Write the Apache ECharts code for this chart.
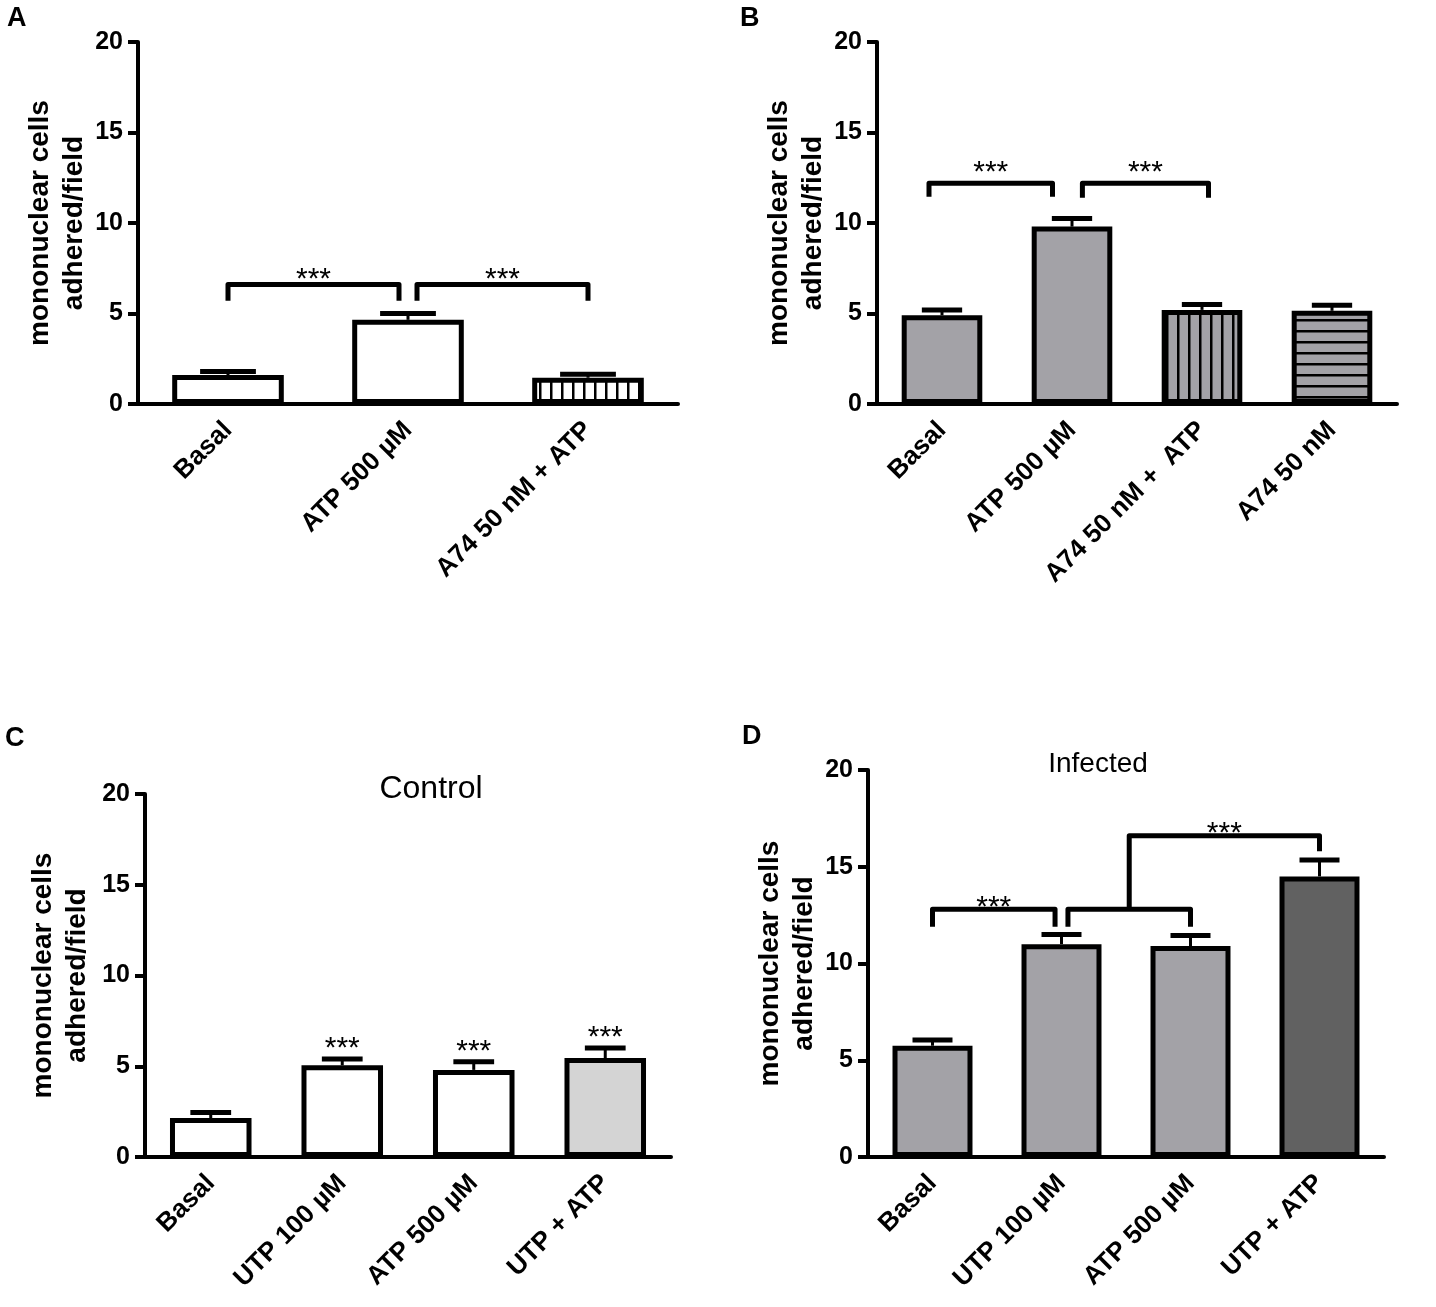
<!DOCTYPE html>
<html>
<head>
<meta charset="utf-8">
<script src="https://cdn.jsdelivr.net/npm/echarts@6/dist/echarts.min.js"></script>
<style>
  html, body { margin: 0; padding: 0; background: #fff; }
  #main { width: 1436px; height: 1307px; }
</style>
</head>
<body>
<div id="main"></div>
<script>
// panel A
const catsA = ['Basal', 'ATP 500 µM', 'A74 50 nM + ATP'];
const meanA = [1.6, 4.65, 1.45];
const semA = [0.2, 0.35, 0.2];
// panel B
const catsB = ['Basal', 'ATP 500 µM', 'A74 50 nM +  ATP', 'A74 50 nM'];
const meanB = [4.9, 9.8, 5.2, 5.15];
const semB = [0.3, 0.45, 0.3, 0.3];
// panel C (Control)
const catsC = ['Basal', 'UTP 100 µM', 'ATP 500 µM', 'UTP + ATP'];
const meanC = [2.15, 5.05, 4.8, 5.45];
const semC = [0.3, 0.35, 0.45, 0.55];
const starsC = ['', '***', '***', '***'];
// panel D (Infected)
const catsD = ['Basal', 'UTP 100 µM', 'ATP 500 µM', 'UTP + ATP'];
const meanD = [5.75, 11.0, 10.9, 14.5];
const semD = [0.3, 0.5, 0.55, 0.85];

// significance brackets: [from, to, top, left leg end, right leg end, label]
const bracketsA = [[0, 0.95, 6.6, 5.7, 5.7, '***'], [1.05, 2, 6.6, 5.7, 5.7, '***']];
const bracketsB = [[-0.1, 0.85, 12.2, 11.45, 11.45, '***'], [1.08, 2.05, 12.2, 11.4, 11.4, '***']];
const bracketsD = [[0, 0.95, 12.8, 11.9, 11.9, '***'], [1.05, 2, 12.8, 11.9, 11.9, ''], [1.525, 3, 16.6, 12.8, 15.8, '***']];

const FONT = '"Liberation Sans", Arial, sans-serif';
const GREY = '#a3a2a7';

function stripes(bg, vertical) {
  const c = document.createElement('canvas');
  c.width = 11; c.height = 11;
  const g = c.getContext('2d');
  g.fillStyle = bg; g.fillRect(0, 0, 11, 11);
  g.fillStyle = '#000';
  if (vertical) g.fillRect(0, 0, 2.5, 11); else g.fillRect(0, 0, 11, 2.5);
  return { image: c, repeat: 'repeat' };
}

const option = {
  animation: false,
  grid: [], xAxis: [], yAxis: [], series: [],
  graphic: [
    { type: 'text', x: 7, y: 5, style: { text: 'A', font: 'bold 27px ' + FONT, fill: '#000' } },
    { type: 'text', x: 740, y: 5, style: { text: 'B', font: 'bold 27px ' + FONT, fill: '#000' } },
    { type: 'text', x: 5, y: 725, style: { text: 'C', font: 'bold 27px ' + FONT, fill: '#000' } },
    { type: 'text', x: 742, y: 723, style: { text: 'D', font: 'bold 27px ' + FONT, fill: '#000' } },
    { type: 'text', x: 431, y: 789, style: { text: 'Control', font: '32px ' + FONT, fill: '#000', align: 'center', verticalAlign: 'middle' } },
    { type: 'text', x: 1098, y: 764, style: { text: 'Infected', font: '28px ' + FONT, fill: '#000', align: 'center', verticalAlign: 'middle' } }
  ]
};

function addPanel(i, cats, means, sems, colors, box, nameGap, brackets, starGap, stars) {
  option.grid.push({ left: box[0], top: box[1], width: box[2], height: box[3] });
  option.xAxis.push({
    gridIndex: i, type: 'category', data: cats,
    axisLine: { lineStyle: { color: '#000', width: 4 } },
    axisTick: { show: false },
    axisLabel: { rotate: 45, interval: 0, margin: 22, color: '#000', fontFamily: FONT, fontWeight: 'bold', fontSize: 26 }
  });
  // hidden value axis over the same grid, for bracket positions between bars
  option.xAxis.push({ gridIndex: i, type: 'value', min: -0.5, max: cats.length - 0.5, show: false });
  option.yAxis.push({
    gridIndex: i, type: 'value', min: 0, max: 20, interval: 5,
    name: 'mononuclear cells\nadhered/field', nameLocation: 'middle', nameGap: nameGap,
    nameTextStyle: { color: '#000', fontFamily: FONT, fontWeight: 'bold', fontSize: 28, lineHeight: 34 },
    axisLine: { show: true, onZero: false, lineStyle: { color: '#000', width: 4 } },
    axisTick: { show: true, length: 10, lineStyle: { color: '#000', width: 4 } },
    axisLabel: { margin: 15, color: '#000', fontFamily: FONT, fontWeight: 'bold', fontSize: 25 },
    splitLine: { show: false }
  });
  option.series.push({
    type: 'bar', xAxisIndex: 2 * i, yAxisIndex: i, barWidth: '62%',
    itemStyle: { borderColor: '#000', borderWidth: 5 },
    data: means.map((m, k) => ({ value: m, itemStyle: { color: colors[k] } }))
  });
  option.series.push({
    type: 'custom', xAxisIndex: 2 * i, yAxisIndex: i,
    encode: { x: 0, y: 1 },
    data: means.map((m, k) => [k, m, sems[k]]),
    renderItem: function (params, api) {
      const k = api.value(0), m = api.value(1), e = api.value(2);
      const base = api.coord([k, m]);
      const top = api.coord([k, m + e]);
      const half = api.size([1, 0])[0] * 0.62 / 4;
      const children = [
        { type: 'line', shape: { x1: base[0], y1: base[1], x2: top[0], y2: top[1] }, style: { stroke: '#000', lineWidth: 3 } },
        { type: 'line', shape: { x1: top[0] - half, y1: top[1], x2: top[0] + half, y2: top[1] }, style: { stroke: '#000', lineWidth: 5 } }
      ];
      if (stars && stars[params.dataIndex]) {
        children.push({ type: 'text', x: top[0], y: top[1] - 10,
          style: { text: stars[params.dataIndex], font: '30px ' + FONT, fill: '#000', align: 'center', verticalAlign: 'middle' } });
      }
      return { type: 'group', children: children };
    }
  });
  if (brackets) {
    option.series.push({
      type: 'custom', xAxisIndex: 2 * i + 1, yAxisIndex: i,
      encode: { x: 0, y: 1 },
      data: brackets.map(b => [b[0], b[2], b[1], b[3], b[4]]),
      renderItem: function (params, api) {
        const x1 = api.value(0), top = api.value(1), x2 = api.value(2);
        const pts = [[x1, api.value(3)], [x1, top], [x2, top], [x2, api.value(4)]].map(p => api.coord(p));
        const children = [{ type: 'polyline', shape: { points: pts },
          style: { stroke: '#000', lineWidth: 5, fill: 'none', lineJoin: 'round' } }];
        const label = brackets[params.dataIndex][5];
        if (label) {
          children.push({ type: 'text', x: (pts[1][0] + pts[2][0]) / 2, y: pts[1][1] - starGap,
            style: { text: label, font: '30px ' + FONT, fill: '#000', align: 'center', verticalAlign: 'middle' } });
        }
        return { type: 'group', children: children };
      }
    });
  }
}

addPanel(0, catsA, meanA, semA, ['#fff', '#fff', stripes('#fff', true)], [138, 42, 540, 362], 44, bracketsA, 5);
addPanel(1, catsB, meanB, semB, [GREY, GREY, stripes(GREY, true), stripes(GREY, false)], [877, 42, 520, 362], 45, bracketsB, 10);
addPanel(2, catsC, meanC, semC, ['#fff', '#fff', '#fff', '#d4d4d4'], [145, 794, 526, 363], 51, null, 0, starsC);
addPanel(3, catsD, meanD, semD, [GREY, GREY, GREY, '#616161'], [868, 770, 516, 387], 43, bracketsD, 2);

const chart = echarts.init(document.getElementById('main'));
chart.setOption(option);
</script>
</body>
</html>
